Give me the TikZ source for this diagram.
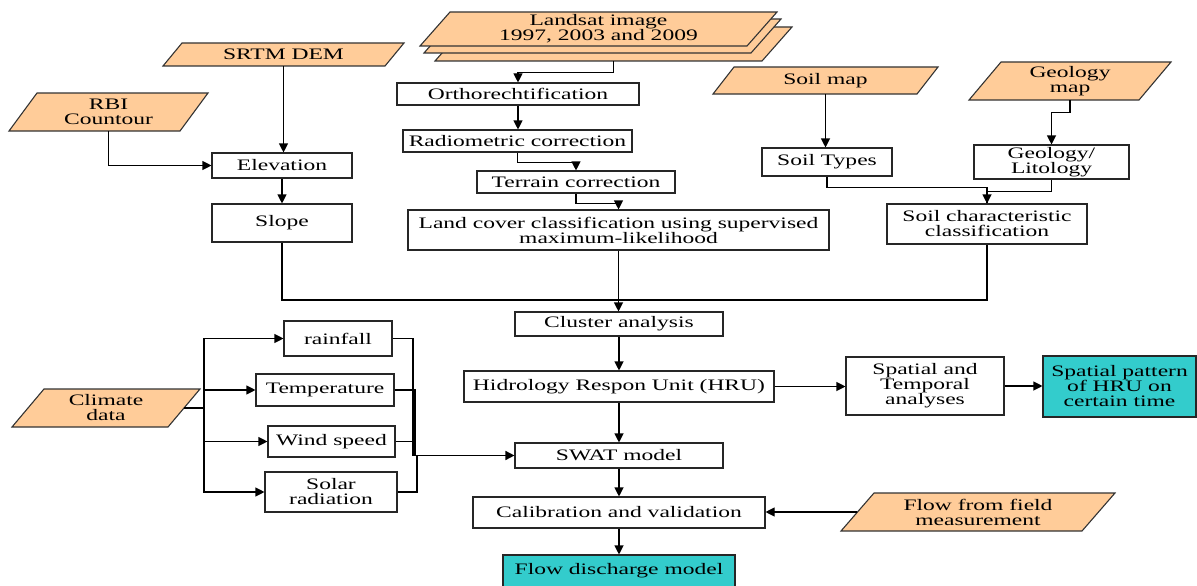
\documentclass[tikz,border=0pt]{standalone}
\usepackage{fontspec}
\setmainfont{Liberation Serif}[FakeStretch=1.47]
\usetikzlibrary{arrows.meta}
\definecolor{peach}{HTML}{FFCC99}
\definecolor{tealbox}{HTML}{33CCCC}
\newcommand\bxnode[7][]{%
  \node[box,#1,minimum width={(#5-#3)*1pt},minimum height={(#6-#4)*1pt}] (#2) at ({(#3+#5)/2},{(#4+#6)/2}) {#7};}
\newcommand\plnode[7]{%
  \filldraw[para] (#2,#5) -- ({#2+#6},#4) -- ({#3+#6},#4) -- (#3,#5) -- cycle;
  \node[ptext,minimum width={(#3-#2)*1pt},minimum height={(#5-#4)*1pt}] (#1) at ({(#2+#3+#6)/2},{(#4+#5)/2}) {#7};}
\begin{document}
\begin{tikzpicture}[x=1pt,y=-1pt,
  font=\fontsize{16}{15}\selectfont,
  box/.style={draw=black!85,line width=1.1pt,fill=white,inner sep=0pt,align=center},
  result/.style={fill=tealbox},
  para/.style={draw=black!80,line width=1.1pt,fill=peach},
  ptext/.style={inner sep=0pt,align=center},
  arr/.style={-{Triangle[length=9pt,width=9pt]}},
  ln/.style={line width=1.1pt,black}]
\useasboundingbox (0,0) rectangle (1197,586);

% input data (parallelograms)
\plnode{landsatC}{435}{762}{27}{61}{30}{}
\plnode{landsatB}{424}{751}{19}{53}{30}{}
\plnode{landsat}{420}{747}{12}{46}{30}{Landsat image\\1997, 2003 and 2009}
\plnode{srtm}{163}{385}{43}{66}{19}{SRTM DEM}
\plnode{rbi}{9}{180}{93}{131}{28}{RBI\\Countour}
\plnode{soilmap}{713}{917}{67}{94}{21}{Soil map}
\plnode{geomap}{969}{1139}{62}{100}{32}{Geology\\map}
\plnode{climate}{12}{168}{389}{427}{32}{Climate\\data}
\plnode{flowfield}{841}{1082}{493}{531}{33}{Flow from field\\measurement}

% process boxes
\bxnode{ortho}{397}{83}{639}{105}{Orthorechtification}
\bxnode{radio}{403}{130}{632}{152}{Radiometric correction}
\bxnode{terrain}{477}{171}{675}{193}{Terrain correction}
\bxnode{landcover}{408}{210}{829}{250}{Land cover classification using supervised\\maximum-likelihood}
\bxnode{elev}{212}{153}{352}{178}{Elevation}
\bxnode{slope}{212}{204}{352}{242}{Slope}
\bxnode{soiltypes}{762}{148}{892}{176}{Soil Types}
\bxnode{geolit}{974}{145}{1129}{179}{Geology/\\Litology}
\bxnode{soilchar}{887}{204}{1087}{244}{Soil characteristic\\classification}
\bxnode{cluster}{515}{312}{723}{336}{Cluster analysis}
\bxnode{hru}{464}{371}{774}{402}{Hidrology Respon Unit (HRU)}
\bxnode{st}{846}{357}{1004}{415}{Spatial and\\Temporal\\analyses}
\bxnode[result]{pattern}{1043}{356}{1196}{417}{Spatial pattern\\of HRU on\\certain time}
\bxnode{rain}{284}{321}{392}{356}{rainfall}
\bxnode{temp}{256}{374}{394}{406}{Temperature}
\bxnode{wind}{268}{426}{395}{457}{Wind speed}
\bxnode{solar}{265}{472}{397}{512}{Solar\\radiation}
\bxnode{swat}{515}{443}{723}{468}{SWAT model}
\bxnode{calib}{473}{497}{765}{528}{Calibration and validation}
\bxnode[result]{flowdis}{503}{555}{735}{587}{Flow discharge model}

% connectors
\draw[ln,arr] (landsatC.south) -- ++(0,11) -| (ortho.north);
\draw[ln,arr] (ortho.south) -- (ortho.south |- radio.north);
\draw[ln,arr] (radio.south) -- ++(0,10) -| (terrain.north);
\draw[ln,arr] (terrain.south) -- ++(0,10) -| (landcover.north);
\draw[ln,arr] (landcover.south) -- (landcover.south |- cluster.north);
\draw[ln,arr] (srtm.south) -- (srtm.south |- elev.north);
\draw[ln,arr] (rbi.south) |- (elev.west);
\draw[ln,arr] (elev.south) -- (elev.south |- slope.north);
\coordinate (hl) at (0,300);
\draw[ln] (slope.south) |- (hl -| soilchar.south) -- (soilchar.south);
\draw[ln,arr] (soilmap.south) -- (soilmap.south |- soiltypes.north);
\draw[ln,arr] (geomap.south) -- ++(0,12) -| (geolit.north);
\draw[ln] (geolit.south) -- ++(0,12) -| (soilchar.north);
\draw[ln,arr] (soiltypes.south) -- ++(0,11) -| (soilchar.north);
\draw[ln,arr] (cluster.south) -- (cluster.south |- hru.north);
\draw[ln,arr] (hru.east) -- (hru.east -| st.west);
\draw[ln,arr] (st.east) -- (st.east -| pattern.west);
\draw[ln,arr] (hru.south) -- (hru.south |- swat.north);
\draw[ln,arr] (swat.south) -- (swat.south |- calib.north);
\draw[ln,arr] (calib.south) -- (calib.south |- flowdis.north);
\draw[ln,arr] (flowfield.west) -- (flowfield.west -| calib.east);

\coordinate (bus) at (204,408);
\draw[ln,line width=1.7pt] (climate.east) -- (bus);
\draw[ln,arr] (bus) |- (rain.west);
\draw[ln,arr] (bus) |- (temp.west);
\draw[ln,arr] (bus) |- (wind.west);
\draw[ln,arr] (bus) |- (solar.west);

\coordinate (merge) at (415,455.5);
\draw[ln] (rain.east) -| ([xshift=-2pt]merge);
\draw[ln] (temp.east) -| (merge);
\draw[ln] (wind.east) -| (merge);
\draw[ln] (solar.east) -| ([xshift=2pt]merge);
\draw[ln,line width=1.5pt,arr] ([xshift=-2pt]merge) -- (merge -| swat.west);
\end{tikzpicture}
\end{document}
